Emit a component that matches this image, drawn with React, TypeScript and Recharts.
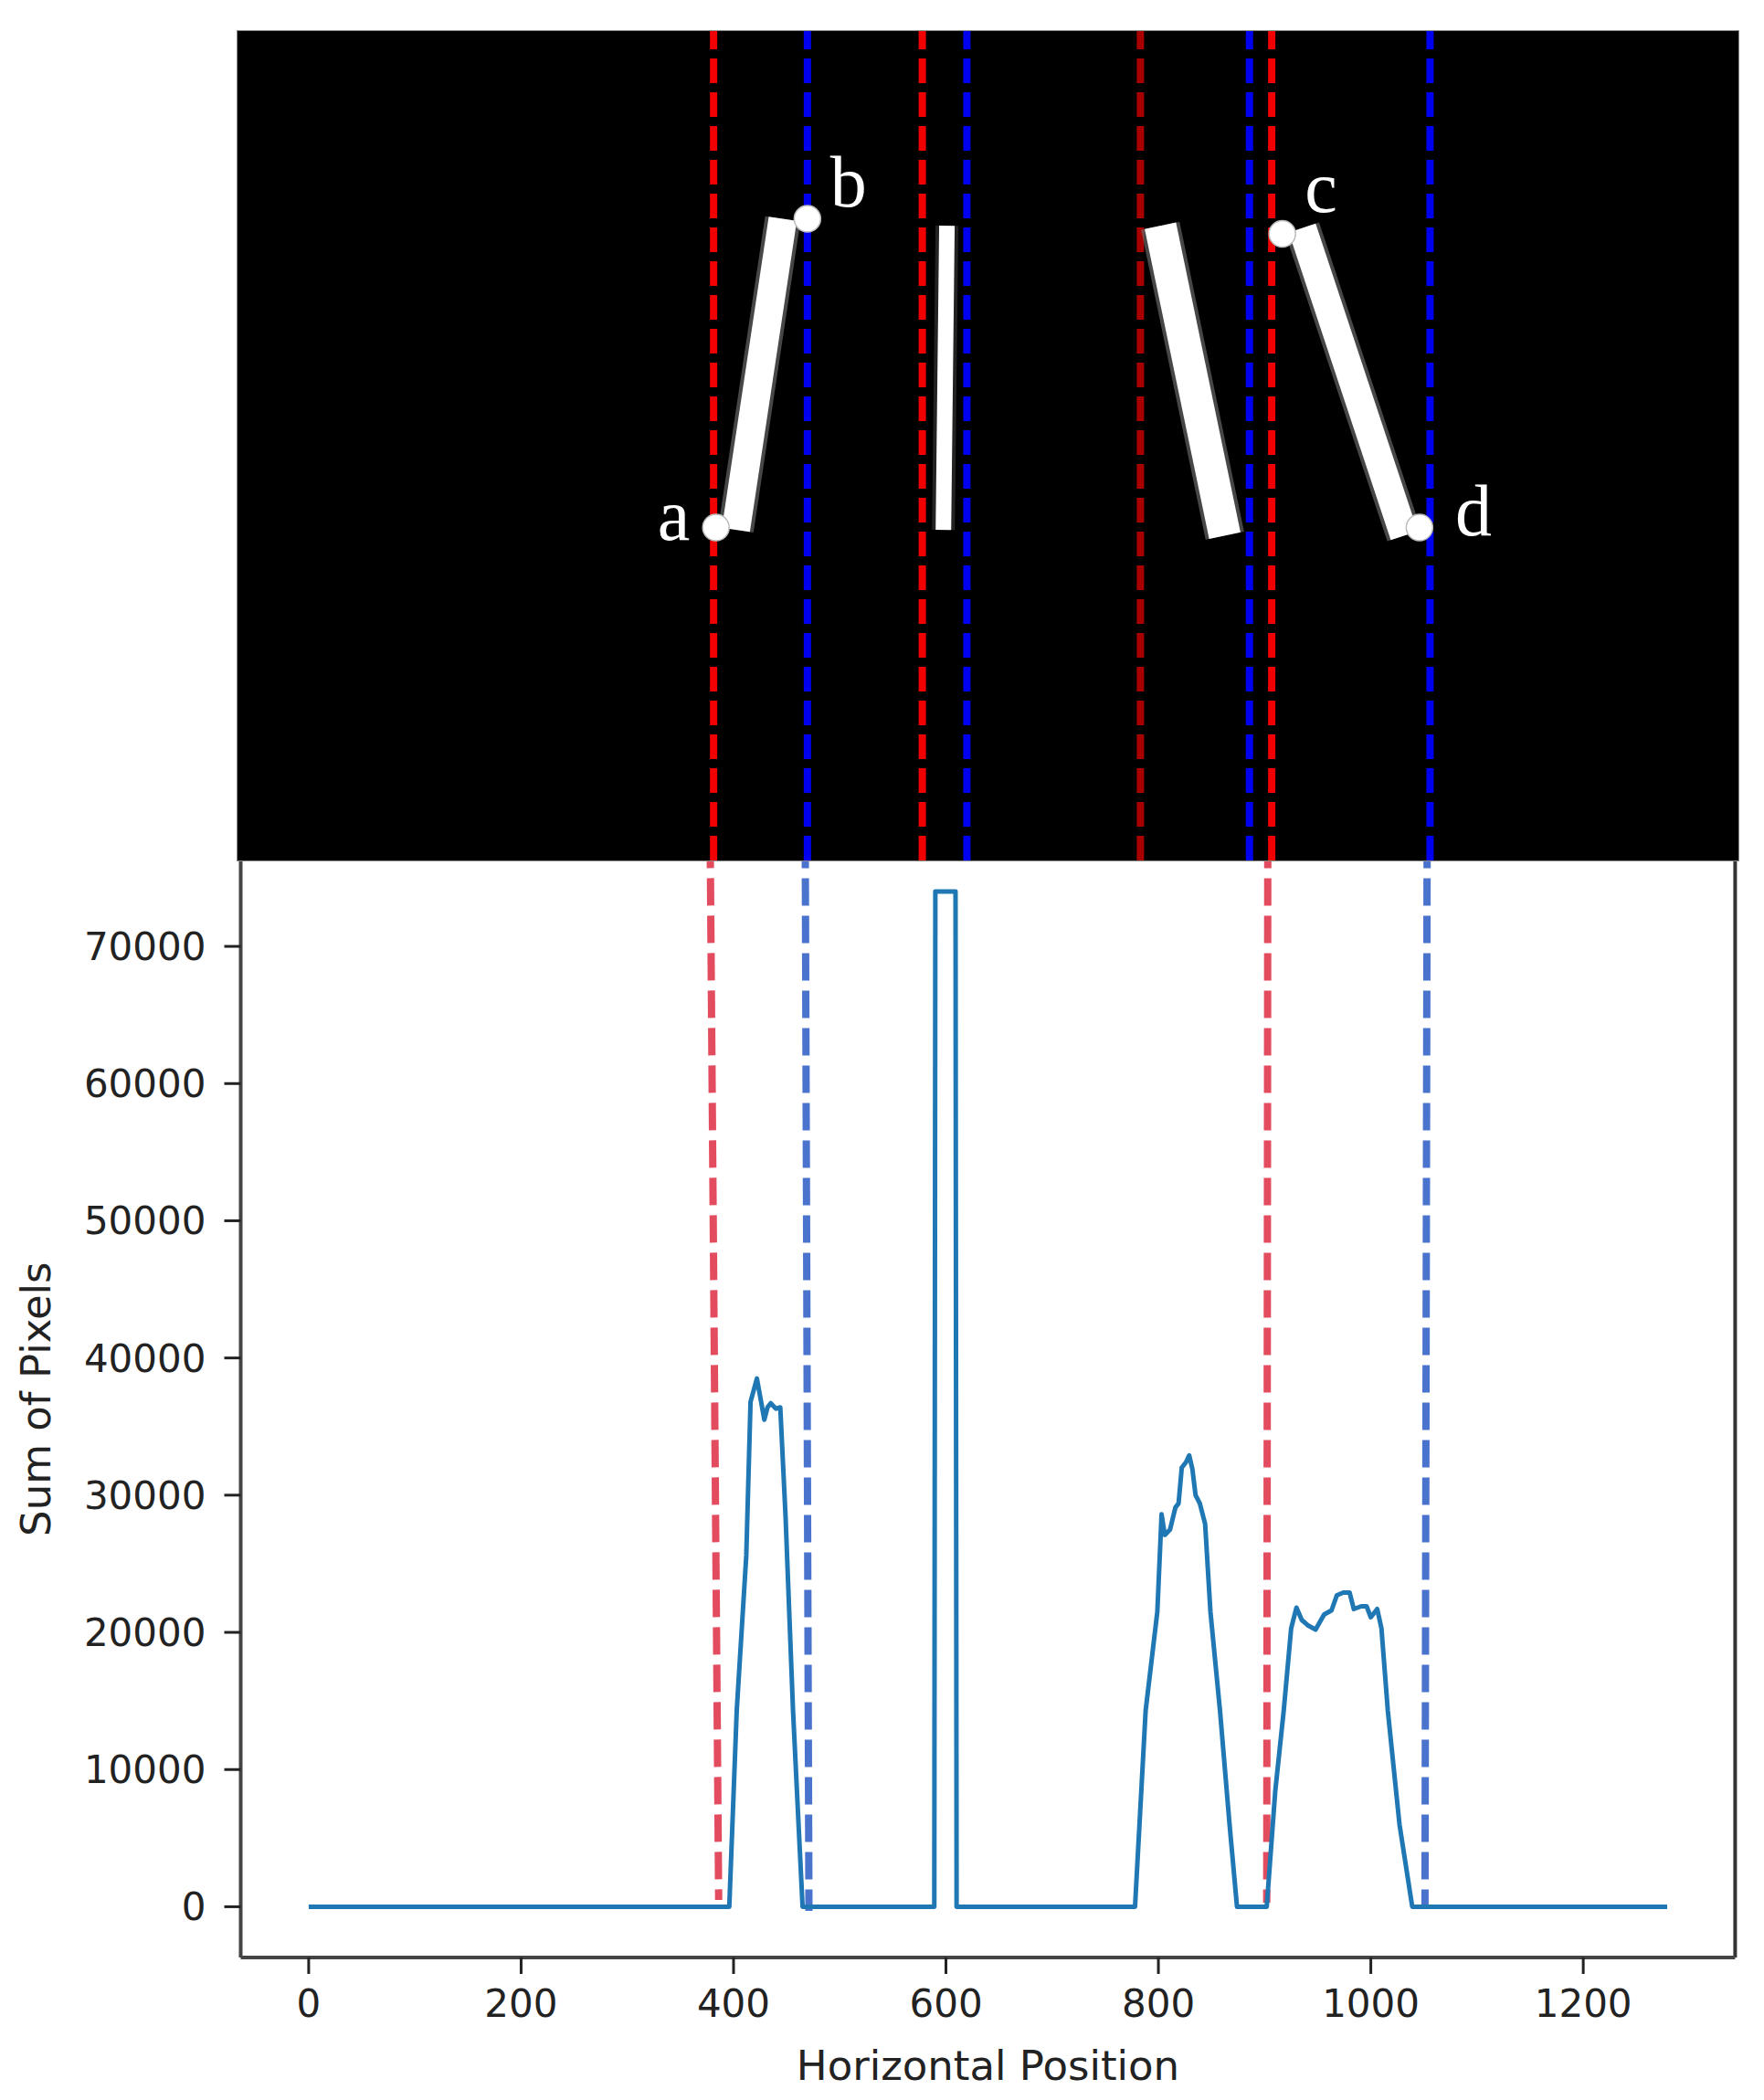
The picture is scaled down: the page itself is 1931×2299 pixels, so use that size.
import React from 'react';
import {
  ComposedChart, Line, XAxis, YAxis, ReferenceLine, Scatter,
} from 'recharts';

// ---------- bottom profile: column sums of the binary image ----------
const positions = [0, 396, 403, 412, 416, 422, 429, 432, 435, 440, 444, 449, 456, 465, 589, 590, 609, 610, 778, 788, 799, 803, 806, 811, 816, 819, 822, 826, 829, 832, 835, 839, 844, 849, 858, 867, 874, 902, 910, 918, 925, 930, 935, 941, 948, 956, 963, 968, 974, 980, 984, 991, 996, 1000, 1006, 1010, 1016, 1027, 1039, 1279];
const pixelSums = [0, 0, 14300, 25600, 36800, 38500, 35500, 36400, 36700, 36300, 36400, 28400, 14300, 0, 0, 74000, 74000, 0, 0, 14300, 21500, 28600, 27100, 27500, 29100, 29400, 32000, 32400, 32900, 31900, 30000, 29400, 27900, 21500, 14300, 6000, 0, 0, 8400, 14300, 20300, 21800, 20900, 20500, 20200, 21300, 21600, 22700, 22900, 22900, 21700, 21900, 21900, 21100, 21700, 20300, 14300, 6000, 0, 0];
const xTicks = [0, 200, 400, 600, 800, 1000, 1200];
const yTicks = [0, 10000, 20000, 30000, 40000, 50000, 60000, 70000];
const xDomain = [-64, 1343];
const yDomain = [-3700, 77700];

// dashed bounds drawn over the profile (top point, bottom point)
const startBoundTopX = [378, 903];
const startBoundBottomX = [386, 902];
const startBoundBottomY = [500, 300];
const endBoundTopX = [467.5, 1053];
const endBoundBottomX = [471, 1051];
const endBoundBottomY = [-300, 0];

// ---------- top image panel (image pixel coordinates, 1280 x 720) ----------
const imgWidth = 1280;
const imgHeight = 720;
const imgStartBounds = [406, 584, 770, 882];
const imgEndBounds = [486, 622, 863, 1017];
const strokeTopX = [465, 605, 787, 908];
const strokeTopY = [163, 169, 169, 171];
const strokeBottomX = [425, 602, 842, 995];
const strokeBottomY = [433, 433, 438, 438];
const endpointNames = ['a', 'b', 'c', 'd'];
const endpointX = [408, 486, 891, 1008];
const endpointY = [431, 163, 176, 431];
const labelX = [372, 521, 924, 1054];
const labelY = [442, 152, 157, 438];

const profileData = positions.map((p, i) => ({ position: p, sum: pixelSums[i] }));
const endpointData = endpointNames.map((n, i) => ({ name: n, x: endpointX[i], y: endpointY[i] }));
const labelData = endpointNames.map((n, i) => ({ name: n, x: labelX[i], y: labelY[i] }));

const strokeWidths = [31, 17, 35, 31];
const startColors = ['#f00000', '#f00000', '#a80000', '#f00000'];

const FONT = 'DejaVu Sans, sans-serif';

const XTitle = (props: any) => {
  const vb = props.viewBox;
  return (
    <text x={vb.x + vb.width / 2} y={vb.y + 134} textAnchor="middle" fontSize={45} fontFamily={FONT} fill="#222">
      Horizontal Position
    </text>
  );
};

const YTitle = (props: any) => {
  const vb = props.viewBox;
  const cx = vb.x + 40;
  const cy = vb.y + vb.height / 2;
  return (
    <text x={cx} y={cy} transform={`rotate(-90 ${cx} ${cy})`} textAnchor="middle" dominantBaseline="central" fontSize={45} fontFamily={FONT} fill="#222">
      Sum of Pixels
    </text>
  );
};

const Dot = (p: any) => <circle cx={p.cx} cy={p.cy} r={14.5} fill="#fff" stroke="#bbb" strokeWidth={1.5} />;
const Letter = (p: any) => (
  <text x={p.cx} y={p.cy} textAnchor="middle" fill="#fff" fontSize={80} fontFamily="Liberation Serif, DejaVu Serif, serif">
    {p.payload.name}
  </text>
);

export default function App() {
  return (
    <div style={{ position: 'absolute', left: 0, top: 0, width: 1931, height: 2299, background: '#fff' }}>
      <ComposedChart
        width={1931}
        height={2299}
        data={profileData}
        margin={{ top: 920.4, right: 31.6, bottom: 0, left: 0 }}
      >
        <XAxis
          dataKey="position"
          type="number"
          domain={xDomain}
          allowDataOverflow
          ticks={xTicks}
          height={156}
          tickSize={18}
          tickMargin={17}
          axisLine={{ stroke: '#444', strokeWidth: 4 }}
          tickLine={{ stroke: '#222', strokeWidth: 3 }}
          tick={{ fontSize: 42, fill: '#222', fontFamily: FONT }}
          label={{ content: XTitle }}
        />
        <YAxis
          type="number"
          domain={yDomain}
          allowDataOverflow
          ticks={yTicks}
          width={263.5}
          tickSize={18}
          tickMargin={20}
          axisLine={{ stroke: '#444', strokeWidth: 4 }}
          tickLine={{ stroke: '#222', strokeWidth: 3 }}
          tick={{ fontSize: 42, fill: '#222', fontFamily: FONT }}
          label={{ content: YTitle }}
        />
        <ReferenceLine x={xDomain[1]} stroke="#333" strokeWidth={4} />
        {startBoundTopX.map((x, i) => (
          <ReferenceLine
            key={'s' + i}
            segment={[{ x, y: yDomain[1] }, { x: startBoundBottomX[i], y: startBoundBottomY[i] }]}
            stroke="#e34b5f"
            strokeWidth={8}
            strokeDasharray="30 11"
          />
        ))}
        {endBoundTopX.map((x, i) => (
          <ReferenceLine
            key={'e' + i}
            segment={[{ x, y: yDomain[1] }, { x: endBoundBottomX[i], y: endBoundBottomY[i] }]}
            stroke="#4a73ce"
            strokeWidth={8}
            strokeDasharray="30 11"
          />
        ))}
        <Line
          dataKey="sum"
          type="linear"
          stroke="#1f77b4"
          strokeWidth={5}
          strokeLinejoin="round"
          dot={false}
          isAnimationActive={false}
        />
      </ComposedChart>

      <div style={{ position: 'absolute', left: 260, top: 34, width: 1643, height: 908, background: '#000', outline: '1px solid #888' }}>
        <ComposedChart width={1643} height={908} margin={{ top: 0, right: 0, bottom: 0, left: 0 }}>
          <XAxis dataKey="x" type="number" domain={[0, imgWidth]} hide allowDataOverflow />
          <YAxis dataKey="y" type="number" domain={[0, imgHeight]} reversed hide allowDataOverflow />
          {imgStartBounds.map((x, i) => (
            <ReferenceLine key={'is' + i} x={x} stroke={startColors[i]} strokeWidth={8} strokeDasharray="27 10" />
          ))}
          {imgEndBounds.map((x, i) => (
            <ReferenceLine key={'ie' + i} x={x} stroke="#0000f0" strokeWidth={8} strokeDasharray="27 10" />
          ))}
          {strokeTopX.map((x, i) => (
            <Line
              key={'h' + i}
              data={[{ x, y: strokeTopY[i] }, { x: strokeBottomX[i], y: strokeBottomY[i] }]}
              dataKey="y"
              stroke={i === 1 ? '#3a3a3a' : '#777777'}
              strokeWidth={strokeWidths[i] + 8}
              strokeOpacity={0.6}
              dot={false}
              isAnimationActive={false}
            />
          ))}
          {strokeTopX.map((x, i) => (
            <Line
              key={'w' + i}
              data={[{ x, y: strokeTopY[i] }, { x: strokeBottomX[i], y: strokeBottomY[i] }]}
              dataKey="y"
              stroke="#ffffff"
              strokeWidth={strokeWidths[i]}
              dot={false}
              isAnimationActive={false}
            />
          ))}
          <Scatter data={endpointData} dataKey="y" shape={Dot} isAnimationActive={false} />
          <Scatter data={labelData} dataKey="y" shape={Letter} isAnimationActive={false} />
        </ComposedChart>
      </div>
    </div>
  );
}
